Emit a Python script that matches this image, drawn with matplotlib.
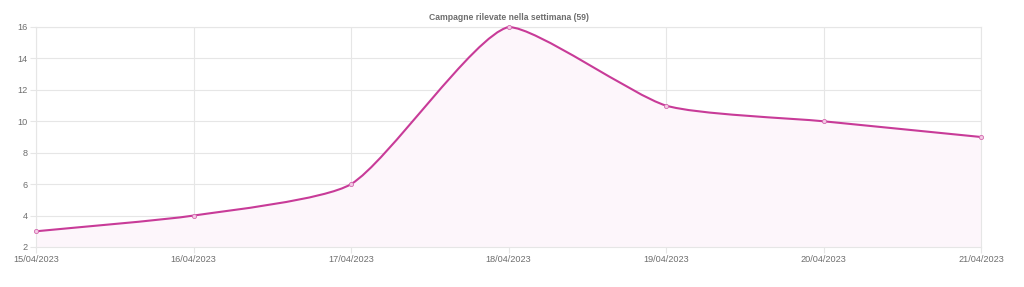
import numpy as np
import matplotlib
matplotlib.use("Agg")
import matplotlib.pyplot as plt
from matplotlib.path import Path
from matplotlib.patches import PathPatch

# Data
dates = ['15/04/2023', '16/04/2023', '17/04/2023', '18/04/2023',
         '19/04/2023', '20/04/2023', '21/04/2023']
counts = [3, 4, 6, 16, 11, 10, 9]
title = 'Campagne rilevate nella settimana (59)'

line_color = '#c83b98'
fill_color = '#fdf6fb'
grid_color = '#e6e6e6'
text_color = '#6e6e6e'

plt.rcParams['font.family'] = ['Liberation Sans', 'DejaVu Sans']

fig = plt.figure(figsize=(10.24, 2.87), dpi=100)
ax = fig.add_axes([36 / 1024, 1 - 247 / 287, 945 / 1024, 220 / 287])
ymin, ymax = 2, 16
ax.set_xlim(0, len(dates) - 1)
ax.set_ylim(ymin, ymax)

# bezier control points (chart.js style spline), worked out in pixel space
sx = 945 / (len(dates) - 1)
sy = 220 / (ymax - ymin)
x = np.arange(len(counts), dtype=float)
y = np.array(counts, dtype=float)
px, py = x * sx, y * sy
t = 0.2
n = len(px)
cp_prev, cp_next = [], []
for i in range(n):
    a = max(i - 1, 0)
    b = min(i + 1, n - 1)
    d01 = np.hypot(px[i] - px[a], py[i] - py[a])
    d12 = np.hypot(px[b] - px[i], py[b] - py[i])
    tot = d01 + d12
    fa = t * d01 / tot
    fb = t * d12 / tot
    cp_prev.append((px[i] - fa * (px[b] - px[a]), py[i] - fa * (py[b] - py[a])))
    cp_next.append((px[i] + fb * (px[b] - px[a]), py[i] + fb * (py[b] - py[a])))


def to_data(p):
    return (min(max(p[0] / sx, 0), n - 1), min(max(p[1] / sy, ymin), ymax))


verts = [(x[0], y[0])]
codes = [Path.MOVETO]
for i in range(n - 1):
    verts += [to_data(cp_next[i]), to_data(cp_prev[i + 1]), (x[i + 1], y[i + 1])]
    codes += [Path.CURVE4] * 3

fill_verts = verts + [(x[-1], ymin), (x[0], ymin), (x[0], y[0])]
fill_codes = codes + [Path.LINETO, Path.LINETO, Path.CLOSEPOLY]
ax.add_patch(PathPatch(Path(fill_verts, fill_codes), facecolor=fill_color,
                       edgecolor='none', zorder=1))
ax.add_patch(PathPatch(Path(verts, codes), facecolor='none', edgecolor=line_color,
                       linewidth=1.5, zorder=3, clip_on=False))
ax.plot(x, y, 'o', markersize=3.0, markerfacecolor='#f3c8e4',
        markeredgecolor='#d36aae', markeredgewidth=0.6, zorder=4, clip_on=False)

ax.set_xticks(x)
ax.set_xticklabels(dates)
ax.set_yticks(range(2, 17, 2))
ax.grid(True, color=grid_color, linewidth=0.8, zorder=0)
ax.set_axisbelow(True)
for s in ax.spines.values():
    s.set_color(grid_color)
    s.set_linewidth(0.8)
ax.tick_params(colors=grid_color, labelcolor=text_color, labelsize=6.6,
               length=4, width=0.8, pad=2)
ax.set_title(title, fontsize=6.2, fontweight='bold', color=text_color, pad=5)

fig.savefig('out.png', dpi=100)
